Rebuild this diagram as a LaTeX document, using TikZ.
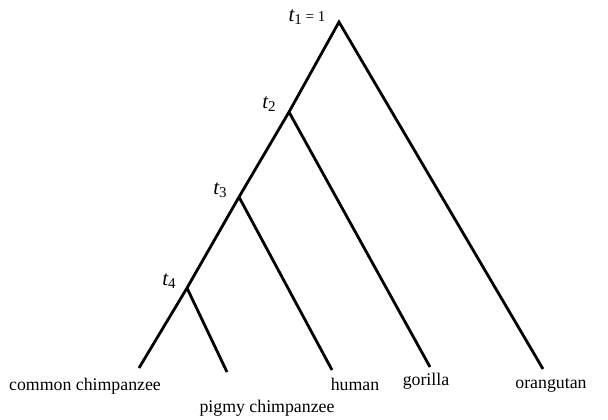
\documentclass[tikz,border=0pt]{standalone}
\usepackage{fontspec}
\setmainfont{Liberation Serif}
\begin{document}
\begin{tikzpicture}[x=1pt,y=-1pt,
  branch/.style={line width=2.8pt,line cap=butt},
  leaf/.style={font=\fontsize{17.8}{20}\selectfont,inner sep=0pt},
  tlab/.style={font=\fontsize{15}{17}\selectfont,inner sep=0pt}]
\useasboundingbox (0,0) rectangle (608,420);
\coordinate (r) at (339,22);
\coordinate (n2) at (289,112);
\coordinate (n3) at (239,197);
\coordinate (n4) at (187,288);
\coordinate (cc) at (139,368);
\coordinate (pc) at (227,372);
\coordinate (hu) at (332,370);
\coordinate (go) at (430,367);
\coordinate (or) at (543,369);
\draw[branch] (cc) -- (n4) -- (n3) -- (n2) -- (r) -- (or);
\draw[branch] (n4) -- (pc);
\draw[branch] (n3) -- (hu);
\draw[branch] (n2) -- (go);
\node[leaf] (lcc) at (85,386) {common chimpanzee};
\node[leaf] (lpc) at (267,408) {pigmy chimpanzee};
\node[leaf] (lhu) at (355,384) {human};
\node[leaf] (lgo) at (426,381) {gorilla};
\node[leaf] (lor) at (551,385) {orangutan};
\newcommand{\tsub}[1]{{\fontsize{21}{22}\selectfont\itshape t}\raisebox{-0.45ex}{#1}}
\node[tlab] (l1) at (307,17) {\tsub{1} = 1};
\node[tlab] (l2) at (269,104) {\tsub{2}};
\node[tlab] (l3) at (220,190) {\tsub{3}};
\node[tlab] (l4) at (169,281) {\tsub{4}};
\end{tikzpicture}
\end{document}
